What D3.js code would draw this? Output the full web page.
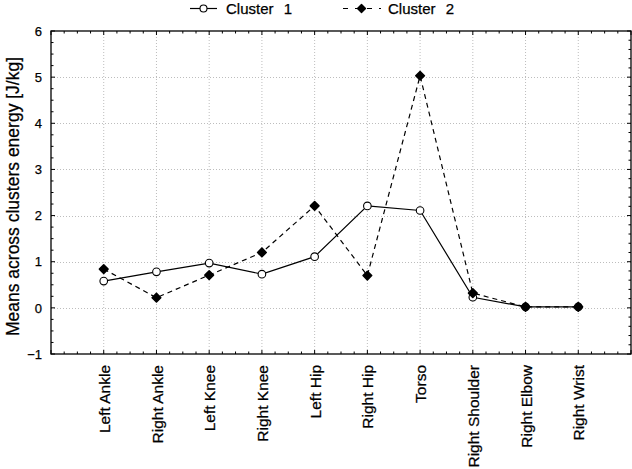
<!DOCTYPE html>
<html>
<head>
<meta charset="utf-8">
<script src="https://cdn.jsdelivr.net/npm/d3@7"></script>
<style>
  html, body { margin: 0; padding: 0; background: #fff; }
  svg { display: block; font-family: "Liberation Sans", Arial, sans-serif; }
  svg text { stroke: #000; stroke-width: 0.25px; }
</style>
</head>
<body>
<svg id="chart" width="632" height="469"></svg>
<script>
const categories = ["Left Ankle", "Right Ankle", "Left Knee", "Right Knee", "Left Hip", "Right Hip", "Torso", "Right Shoulder", "Right Elbow", "Right Wrist"];
const cluster1 = [0.58, 0.78, 0.97, 0.73, 1.11, 2.21, 2.11, 0.23, 0.02, 0.02];
const cluster2 = [0.84, 0.22, 0.71, 1.20, 2.21, 0.70, 5.03, 0.32, 0.02, 0.02];
const seriesNames = ["Cluster 1", "Cluster 2"];
const yTickValues = [-1, 0, 1, 2, 3, 4, 5, 6];
const yTitle = "Means across clusters energy [J/kg]";

const svg = d3.select("#chart");
const L = 51, R = 631, T = 31, B = 354;

const x = d3.scalePoint().domain(categories).range([L, R]).padding(1);
const y = d3.scaleLinear().domain([-1, 6]).range([B, T]);

// grid
const grid = svg.append("g");
grid.selectAll("line.v").data(categories).enter().append("line")
  .attr("x1", d => x(d)).attr("x2", d => x(d)).attr("y1", T).attr("y2", B)
  .attr("stroke", "#bdbdbd").attr("stroke-width", 1).attr("stroke-dasharray", "1,2");
grid.selectAll("line.h").data(yTickValues.filter(v => v > -1 && v < 6)).enter().append("line")
  .attr("x1", L).attr("x2", R).attr("y1", d => Math.round(y(d)) + 0.5).attr("y2", d => Math.round(y(d)) + 0.5)
  .attr("stroke", "#bdbdbd").attr("stroke-width", 1).attr("stroke-dasharray", "1,2");

// frame
svg.append("rect").attr("x", L).attr("y", T).attr("width", R - L).attr("height", B - T)
  .attr("fill", "none").attr("stroke", "#000").attr("stroke-width", 1.3);

// minor/major ticks
const ticks = svg.append("g").attr("stroke", "#000").attr("stroke-width", 1);
const step = x.step();
const xt = d3.range(0, 45).map(k => ({pos: L + k * step / 4, major: k % 4 === 0}));
xt.forEach(t => {
  const len = t.major ? 4 : 2.5;
  ticks.append("line").attr("x1", t.pos).attr("x2", t.pos).attr("y1", B).attr("y2", B - len);
  ticks.append("line").attr("x1", t.pos).attr("x2", t.pos).attr("y1", T).attr("y2", T + len);
});
d3.range(0, 29).forEach(k => {
  const v = -1 + k * 0.25;
  const len = (k % 4 === 0) ? 4 : 2.5;
  ticks.append("line").attr("x1", L).attr("x2", L + len).attr("y1", y(v)).attr("y2", y(v));
});
d3.range(0, 36).forEach(k => {
  const v = -1 + k * 0.2;
  const len = (k % 5 === 0) ? 4 : 2.5;
  ticks.append("line").attr("x1", R).attr("x2", R - len).attr("y1", y(v)).attr("y2", y(v));
});

// y axis labels
const yAxis = svg.append("g").attr("transform", `translate(${L},0)`)
  .call(d3.axisLeft(y).tickValues(yTickValues).tickSize(0).tickPadding(9).tickFormat(d3.format("d")));
yAxis.select(".domain").remove();
yAxis.selectAll("text").attr("font-size", 13).attr("font-family", "Liberation Sans, Arial, sans-serif").attr("fill", "#000");

// x axis labels
const xAxis = svg.append("g").attr("transform", `translate(0,${B})`)
  .call(d3.axisBottom(x).tickSize(0));
xAxis.select(".domain").remove();
xAxis.selectAll("text")
  .attr("transform", "rotate(-90)")
  .attr("x", -11).attr("y", 0).attr("dy", "0.36em")
  .attr("text-anchor", "end")
  .attr("font-size", 15.5).attr("font-family", "Liberation Sans, Arial, sans-serif").attr("fill", "#000");

// y title
svg.append("text")
  .attr("transform", `translate(19,${(T + B) / 2 + 4}) rotate(-90)`)
  .attr("text-anchor", "middle")
  .attr("font-size", 17.5).attr("fill", "#000")
  .text(yTitle);

// lines
const line = d3.line().x((d, i) => x(categories[i])).y(d => y(d));
svg.append("path").datum(cluster1).attr("d", line)
  .attr("fill", "none").attr("stroke", "#000").attr("stroke-width", 1.2);
svg.append("path").datum(cluster2).attr("d", line)
  .attr("fill", "none").attr("stroke", "#000").attr("stroke-width", 1.2).attr("stroke-dasharray", "5,4");

const diamond = s => `M0,${-s}L${s},0L0,${s}L${-s},0Z`;

svg.append("g").selectAll("circle").data(cluster1).enter().append("circle")
  .attr("cx", (d, i) => x(categories[i])).attr("cy", d => y(d)).attr("r", 3.8)
  .attr("fill", "#fff").attr("stroke", "#000").attr("stroke-width", 1.1);
svg.append("g").selectAll("path").data(cluster2).enter().append("path")
  .attr("transform", (d, i) => `translate(${x(categories[i])},${y(d)})`)
  .attr("d", diamond(4.3))
  .attr("fill", "#000").attr("stroke", "#000").attr("stroke-width", 1.6).attr("stroke-linejoin", "round");

// legend
const lg = svg.append("g");
lg.append("line").attr("x1", 190).attr("x2", 217).attr("y1", 8.5).attr("y2", 8.5).attr("stroke", "#000").attr("stroke-width", 1.2);
lg.append("circle").attr("cx", 203.5).attr("cy", 8.5).attr("r", 3.5).attr("fill", "#fff").attr("stroke", "#000").attr("stroke-width", 1.1);
const t1 = lg.append("text").attr("x", 226).attr("y", 8.5).attr("dy", "0.36em").attr("font-size", 15).attr("fill", "#000");
t1.append("tspan").text(seriesNames[0].split(" ")[0] + " ");
t1.append("tspan").attr("dx", 6).text(seriesNames[0].split(" ")[1]);

lg.append("line").attr("x1", 343).attr("x2", 381).attr("y1", 8.5).attr("y2", 8.5).attr("stroke", "#000").attr("stroke-width", 1.2).attr("stroke-dasharray", "5,7");
lg.append("path").attr("transform", "translate(361.5,8.5)").attr("d", diamond(4))
  .attr("fill", "#000").attr("stroke", "#000").attr("stroke-width", 1.4).attr("stroke-linejoin", "round");
const t2 = lg.append("text").attr("x", 388).attr("y", 8.5).attr("dy", "0.36em").attr("font-size", 15).attr("fill", "#000");
t2.append("tspan").text(seriesNames[1].split(" ")[0] + " ");
t2.append("tspan").attr("dx", 6).text(seriesNames[1].split(" ")[1]);
</script>
</body>
</html>
